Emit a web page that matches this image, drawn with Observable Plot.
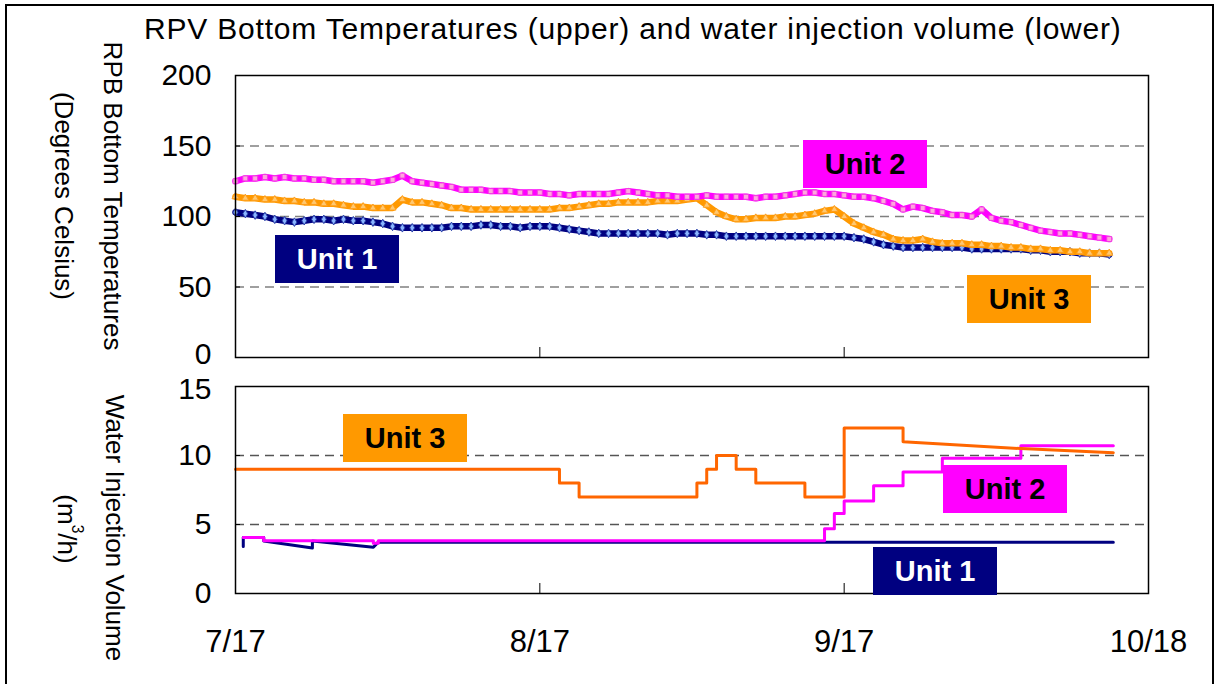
<!DOCTYPE html>
<html><head><meta charset="utf-8">
<script src="https://cdn.jsdelivr.net/npm/d3@7"></script>
<script src="https://cdn.jsdelivr.net/npm/@observablehq/plot@0.6"></script>
<style>
body{margin:0;background:#fff;}
#wrap{position:relative;width:1215px;height:684px;overflow:hidden;background:#fff;font-family:"Liberation Sans",Arial,sans-serif;color:#000;}
#wrap svg{position:absolute;left:0;}
.box{position:absolute;display:flex;align-items:center;justify-content:center;font-weight:bold;font-size:29px;width:124px;height:48px;}
.vlab{position:absolute;writing-mode:vertical-rl;font-size:26px;line-height:26px;white-space:nowrap;transform:translateY(-50%);}
#title{position:absolute;left:144px;top:13px;font-size:30px;line-height:32px;letter-spacing:0.8px;white-space:nowrap;}
#border{position:absolute;left:5px;top:4px;width:1205px;height:700px;border:2.5px solid #000;border-bottom:none;}
</style></head>
<body><div id="wrap">
<div id="border"></div>
<div id="title">RPV Bottom Temperatures (upper) and water injection volume (lower)</div>
<div class="vlab" style="left:100px;top:196px;">RPB Bottom Temperatures</div>
<div class="vlab" style="left:51px;top:196px;">(Degrees Celsius)</div>
<div class="vlab" style="left:102px;top:528px;">Water Injection Volume</div>
<div class="vlab" style="left:54px;top:529px;">(m<sup style="font-size:0.6em">3</sup>/h)</div>
</div>
<script>
// ---------- data ----------
const xDomainDates = ["2011-07-17", "2011-10-18"];
const xTickLabels = ["2011-07-17", "2011-08-17", "2011-09-17", "2011-10-18"];
const tempStart = "2011-07-17"; // daily readings, one per day from this date

const unit1Temp = [
 103,102,101,100,98,97,96,97,98,98,
 97,98,97,97,96,95,93,92,92,92,
 92,92,93,93,93,94,94,93,93,92,
 93,93,93,92,91,90,89,88,88,88,
 88,88,88,88,87,88,88,88,87,87,
 86,86,86,86,86,86,86,86,86,86,
 86,86,86,85,84,82,80,79,78,78,
 78,78,78,78,78,77,77,77,77,77,
 77,76,76,75,75,75,74,74,74,73];
const unit2Temp = [
 125,127,127,128,127,128,127,127,126,126,
 125,125,125,125,124,125,126,129,125,124,
 123,122,121,119,119,119,118,118,118,117,
 117,117,116,116,115,116,116,116,116,117,
 118,117,116,115,115,114,114,114,115,114,
 114,114,114,113,114,114,115,116,117,117,
 116,116,115,114,114,113,111,109,105,107,
 106,104,103,101,101,100,105,99,97,96,
 94,92,90,89,88,88,87,86,85,84];
const unit3Temp = [
 114,113,113,112,112,111,111,110,110,109,
 109,108,107,107,106,106,106,112,110,110,
 109,108,106,106,105,105,105,105,105,105,
 105,105,105,106,106,107,108,109,109,110,
 110,110,110,111,111,111,112,113,108,103,
 100,98,98,99,99,99,100,100,101,102,
 104,105,100,95,92,89,87,84,83,83,
 84,82,81,81,81,80,80,79,79,78,
 78,77,77,76,76,75,75,74,74,74];

const unit1InjDates = ["2011-07-17T19:00Z","2011-07-17T19:00Z","2011-07-19T21:00Z","2011-07-19T21:00Z","2011-07-24T20:00Z","2011-07-24T20:00Z","2011-07-31T01:00Z","2011-07-31T13:00Z","2011-10-14T10:00Z"];
const unit1InjValues = [3.4,4.05,4.05,3.8,3.3,3.8,3.35,3.72,3.72];

const unit2InjDates = ["2011-07-17T19:00Z","2011-07-19T21:00Z","2011-07-19T21:00Z","2011-07-31T01:00Z","2011-07-31T01:00Z","2011-07-31T13:00Z","2011-07-31T13:00Z","2011-09-15","2011-09-15","2011-09-16","2011-09-16","2011-09-17","2011-09-17","2011-09-20","2011-09-20","2011-09-23","2011-09-23","2011-09-27","2011-09-27","2011-10-05","2011-10-05","2011-10-14T10:00Z"];
const unit2InjValues = [4.05,4.05,3.82,3.82,3.65,3.65,3.82,3.82,4.7,4.7,5.8,5.8,6.7,6.7,7.8,7.8,8.8,8.8,9.8,9.8,10.7,10.7];

const unit3InjDates = ["2011-07-17","2011-08-19","2011-08-19","2011-08-21","2011-08-21","2011-09-02","2011-09-02","2011-09-03","2011-09-03","2011-09-04","2011-09-04","2011-09-06","2011-09-06","2011-09-08","2011-09-08","2011-09-13","2011-09-13","2011-09-17","2011-09-17","2011-09-23","2011-09-23","2011-10-05","2011-10-14T10:00Z"];
const unit3InjValues = [9,9,8,8,7,7,8,8,9,9,10,10,9,9,8,8,7,7,12,12,11,10.5,10.2];

const upperTicks = [50,100,150,200];
const upperBottomTick = [0];
const upperGrid = [50,100,150];
const lowerTicks = [0,5,10];
const lowerTopTick = [15];
const lowerGrid = [5,10];

// ---------- build ----------
const parse = s => new Date(s);
const xDomain = xDomainDates.map(parse);
const xTicks = xTickLabels.map(parse);
const innerXTicks = xTicks.slice(1, 3);
const t0 = parse(tempStart);
const tempDates = d3.utcDay.range(t0, d3.utcDay.offset(t0, unit1Temp.length));
const temps = vals => vals.map((v, i) => ({date: tempDates[i], v}));
const inj = (ds, vs) => ds.map((d, i) => ({date: parse(d), v: vs[i]}));
const u1 = temps(unit1Temp), u2 = temps(unit2Temp), u3 = temps(unit3Temp);
const i1 = inj(unit1InjDates, unit1InjValues), i2 = inj(unit2InjDates, unit2InjValues), i3 = inj(unit3InjDates, unit3InjValues);

const NAVY = "#000080", MAG = "#FF00FF", ORG = "#FF9900", ORG2 = "#FF6600";
const font = '"Liberation Sans", Arial, sans-serif';
const style = {fontFamily: font, fontSize: "30px", color: "black", background: "transparent", overflow: "visible"};

const upper = Plot.plot({
  width: 1215, height: 370,
  marginLeft: 235, marginRight: 67, marginTop: 75, marginBottom: 13,
  x: {type: "utc", domain: xDomain},
  y: {domain: [0, 200]},
  style,
  marks: [
    Plot.ruleY(upperGrid, {stroke: "#808080", strokeDasharray: "9,6", strokeWidth: 1.3}),
    Plot.line(u1, {x: "date", y: "v", stroke: NAVY, strokeWidth: 6.5}),
    Plot.dot(u1, {x: "date", y: "v", symbol: "diamond", r: 2.6, stroke: "#2A3FA8", fill: "#8AB4FF", strokeWidth: 1}),
    Plot.line(u3, {x: "date", y: "v", stroke: ORG, strokeWidth: 6.5}),
    Plot.dot(u3, {x: "date", y: "v", symbol: "triangle", r: 2.6, stroke: "#FF9E1A", fill: "#FFC870", strokeWidth: 1}),
    Plot.line(u2, {x: "date", y: "v", stroke: MAG, strokeWidth: 6.5}),
    Plot.dot(u2, {x: "date", y: "v", symbol: "square", r: 2.8, stroke: "#F040E0", fill: "#FFA6DD", strokeWidth: 1}),
    Plot.frame({stroke: "black", strokeWidth: 1.5}),
    Plot.axisY(upperTicks, {tickSize: 0, tickPadding: 24, label: null, fontSize: 30}),
    Plot.axisY(upperBottomTick, {tickSize: 0, tickPadding: 24, label: null, fontSize: 30, dy: -3}),
    Plot.axisY(upperGrid, {tickSize: 5, dx: 5, tickFormat: () => "", label: null}),
    Plot.axisX(innerXTicks, {anchor: "bottom", tickSize: 10, dy: -10, tickFormat: () => "", label: null})
  ]
});
upper.style.top = "0px";

const lower = Plot.plot({
  width: 1215, height: 314,
  marginLeft: 235, marginRight: 67, marginTop: 16, marginBottom: 91,
  x: {type: "utc", domain: xDomain},
  y: {domain: [0, 15]},
  style,
  marks: [
    Plot.ruleY(lowerGrid, {stroke: "#555", strokeDasharray: "9,6", strokeWidth: 1.3}),
    Plot.line(i1, {x: "date", y: "v", stroke: NAVY, strokeWidth: 3}),
    Plot.line(i2, {x: "date", y: "v", stroke: MAG, strokeWidth: 3}),
    Plot.line(i3, {x: "date", y: "v", stroke: ORG2, strokeWidth: 3}),
    Plot.frame({stroke: "black", strokeWidth: 1.5}),
    Plot.axisY(lowerTicks, {tickSize: 0, tickPadding: 24, label: null, fontSize: 30}),
    Plot.axisY(lowerTopTick, {tickSize: 0, tickPadding: 24, label: null, fontSize: 30, dy: 3}),
    Plot.axisY(lowerGrid, {tickSize: 5, dx: 5, tickFormat: () => "", label: null}),
    Plot.axisX(innerXTicks, {anchor: "bottom", tickSize: 10, dy: -10, tickFormat: () => "", label: null}),
    Plot.axisX(xTicks, {anchor: "bottom", tickSize: 0, tickPadding: 36, label: null, fontSize: 31, tickFormat: d3.utcFormat("%-m/%-d")})
  ]
});
lower.style.top = "370px";

const wrap = document.getElementById("wrap");
wrap.insertBefore(lower, wrap.firstChild);
wrap.insertBefore(upper, wrap.firstChild);

// unit labels
const labels = [
  {t: "Unit 2", x: 803, y: 140, bg: MAG, c: "#000"},
  {t: "Unit 1", x: 275, y: 235, bg: NAVY, c: "#fff"},
  {t: "Unit 3", x: 967, y: 275, bg: ORG, c: "#000"},
  {t: "Unit 3", x: 343, y: 414, bg: ORG, c: "#000"},
  {t: "Unit 2", x: 943, y: 465, bg: MAG, c: "#000"},
  {t: "Unit 1", x: 873, y: 547, bg: NAVY, c: "#fff"}
];
for (const l of labels) {
  const d = document.createElement("div");
  d.className = "box";
  d.textContent = l.t;
  d.style.left = l.x + "px"; d.style.top = l.y + "px";
  d.style.background = l.bg; d.style.color = l.c;
  wrap.appendChild(d);
}
</script>
</body></html>
